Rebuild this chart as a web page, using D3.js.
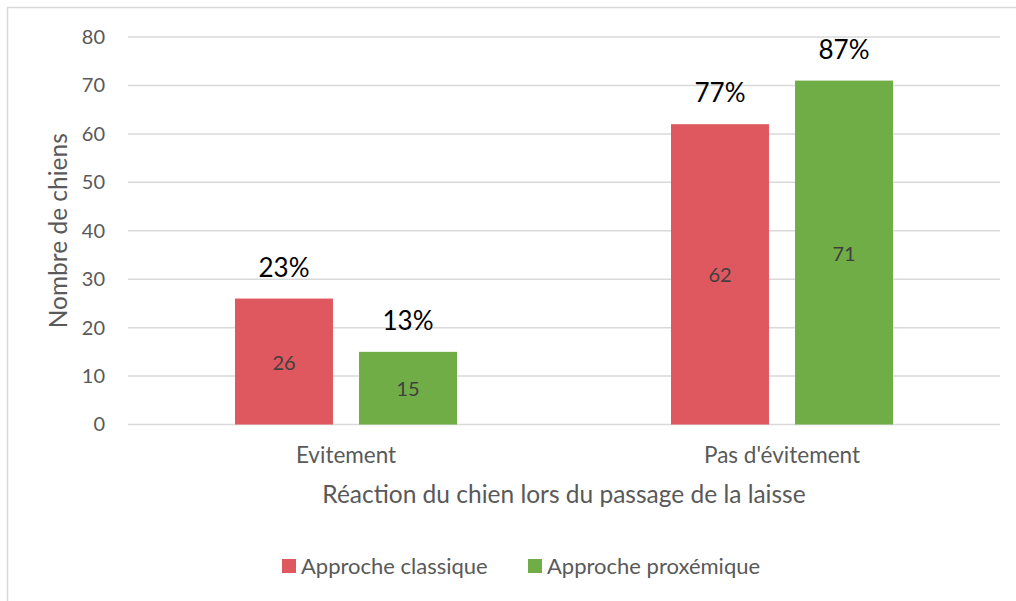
<!DOCTYPE html>
<html>
<head>
<meta charset="utf-8">
<script src="https://cdn.jsdelivr.net/npm/d3@7"></script>
<style>
  body { margin: 0; background: #fff; }
  text { font-family: Lato, "Open Sans", sans-serif; }
</style>
</head>
<body>
<div id="chart-container"></div>
<script>
const categories = ["Evitement", "Pas d'évitement"];
const series = ["Approche classique", "Approche proxémique"];
const classique = [26, 62];
const proxemique = [15, 71];
const pctClassique = ["23%", "77%"];
const pctProxemique = ["13%", "87%"];
const yTicks = [0, 10, 20, 30, 40, 50, 60, 70, 80];

const colors = ["#E0585F", "#70AD47"];
const width = 1016;
const height = 601;
const margin = { top: 37, right: 16, bottom: 176.5, left: 128 };

const rows = categories.map((c, i) => ({
  category: c,
  values: [
    { key: series[0], value: classique[i], pct: pctClassique[i] },
    { key: series[1], value: proxemique[i], pct: pctProxemique[i] }
  ]
}));

function drawChart() {
  d3.select("#chart-container").select("svg").remove();

  const svg = d3
    .select("#chart-container")
    .append("svg")
    .attr("width", width)
    .attr("height", height);

  // chart frame
  svg
    .append("rect")
    .attr("x", 7.5)
    .attr("y", 7.5)
    .attr("width", width + 10)
    .attr("height", height + 10)
    .style("fill", "#ffffff")
    .style("stroke", "#D9D9D9")
    .style("stroke-width", 1.5);

  const innerW = width - margin.left - margin.right;
  const innerH = height - margin.top - margin.bottom;

  const g = svg
    .append("g")
    .attr("transform", "translate(" + margin.left + "," + margin.top + ")");

  const x0 = d3.scaleBand().domain(categories).range([0, innerW]).padding(0);
  const bw = x0.bandwidth();
  const x1 = d3
    .scaleBand()
    .domain(series)
    .range([bw / 2 - 111, bw / 2 + 111])
    .paddingInner(0.21)
    .paddingOuter(0);
  const y = d3.scaleLinear().domain([0, 80]).range([innerH, 0]);

  // gridlines
  g.selectAll(".grid")
    .data(yTicks)
    .enter()
    .append("line")
    .attr("x1", 0)
    .attr("x2", innerW)
    .attr("y1", (d) => y(d))
    .attr("y2", (d) => y(d))
    .style("stroke", "#D9D9D9")
    .style("stroke-width", 1.5);

  // y axis labels
  const yAxis = d3.axisLeft(y).tickValues(yTicks).tickSize(0).tickPadding(23);
  const ya = g.append("g").call(yAxis);
  ya.select(".domain").remove();
  ya.selectAll("text")
    .style("font-family", "Lato, sans-serif")
    .style("font-size", "20px")
    .style("fill", "#595959");

  // x axis labels
  const xAxis = d3.axisBottom(x0).tickSize(0).tickPadding(22.5);
  const xa = g.append("g").attr("transform", "translate(0," + innerH + ")").call(xAxis);
  xa.select(".domain").remove();
  xa.selectAll("text")
    .style("font-family", "Lato, sans-serif")
    .style("font-size", "22.5px")
    .style("fill", "#595959");

  const groups = g
    .selectAll(".cat")
    .data(rows)
    .enter()
    .append("g")
    .attr("transform", (d) => "translate(" + x0(d.category) + ",0)");

  const bars = groups.selectAll(".bar").data((d) => d.values).enter();

  bars
    .append("rect")
    .attr("x", (d) => x1(d.key))
    .attr("width", x1.bandwidth())
    .attr("y", (d) => y(d.value))
    .attr("height", (d) => innerH - y(d.value))
    .style("fill", (d, i) => colors[i]);

  bars
    .append("text")
    .attr("text-anchor", "middle")
    .attr("dy", "0.35em")
    .attr("x", (d) => x1(d.key) + x1.bandwidth() / 2)
    .attr("y", (d) => (y(d.value) + innerH) / 2 + 1)
    .text((d) => d.value)
    .style("font-size", "20px")
    .style("fill", "#404040");

  bars
    .append("text")
    .attr("text-anchor", "middle")
    .attr("x", (d) => x1(d.key) + x1.bandwidth() / 2)
    .attr("y", (d) => y(d.value) - 22)
    .text((d) => d.pct)
    .style("font-size", "26px")
    .style("fill", "#000000");

  // axis titles
  svg
    .append("text")
    .attr("text-anchor", "middle")
    .attr("transform", "translate(67," + (margin.top + innerH / 2) + ") rotate(-90)")
    .text("Nombre de chiens")
    .style("font-size", "24.5px")
    .style("fill", "#595959");

  svg
    .append("text")
    .attr("text-anchor", "middle")
    .attr("x", margin.left + innerW / 2)
    .attr("y", 503)
    .text("Réaction du chien lors du passage de la laisse")
    .style("font-size", "24.5px")
    .style("fill", "#595959");

  // legend
  const legendX = [282, 528];
  const legend = svg
    .selectAll(".legend")
    .data(series)
    .enter()
    .append("g")
    .attr("transform", (d, i) => "translate(" + legendX[i] + ",559)");

  legend
    .append("rect")
    .attr("width", 14)
    .attr("height", 14)
    .style("fill", (d, i) => colors[i]);

  legend
    .append("text")
    .attr("x", 19)
    .attr("y", 7)
    .attr("dy", "0.35em")
    .text((d) => d)
    .style("font-size", "22px")
    .style("fill", "#595959");
}

drawChart();
</script>
</body>
</html>
